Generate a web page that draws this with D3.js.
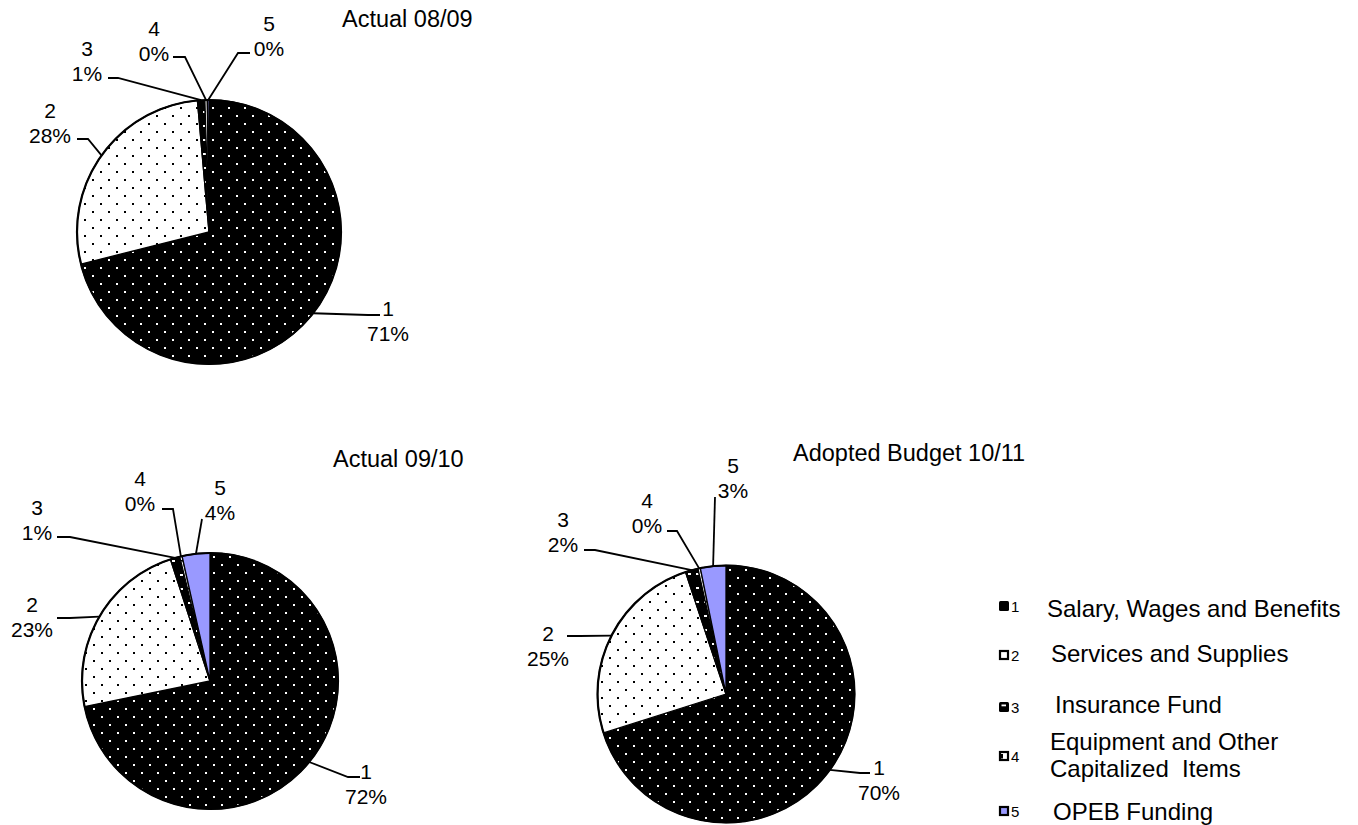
<!DOCTYPE html>
<html><head><meta charset="utf-8">
<script src="https://cdn.jsdelivr.net/npm/d3@7"></script>
<style>
body{margin:0;background:#fff}
svg{display:block}
text{font-family:"Liberation Sans",Arial,Helvetica,sans-serif;fill:#000}
</style>
</head><body>
<svg id="c" width="1358" height="825"></svg>
<script>
// ---- data ----
const categories = ["1", "2", "3", "4", "5"];
const categoryNames = [
  ["Salary, Wages and Benefits"],
  ["Services and Supplies"],
  ["Insurance Fund"],
  ["Equipment and Other", "Capitalized  Items"],
  ["OPEB Funding"]
];
const pieTitles = ["Actual 08/09", "Actual 09/10", "Adopted Budget 10/11"];
const values0809 = [71.1, 27.5, 0.9, 0.3, 0.2];
const values0910 = [71.8, 23.2, 1.2, 0.3, 3.5];
const values1011 = [70.1, 24.8, 1.6, 0.3, 3.2];
const seriesValues = [values0809, values0910, values1011];

// ---- layout (positions only) ----
const pieLayout = [
  {cx: 209, cy: 232, r: 132, title: [342, 27], labels: [
    {elbow: [368, 315], end: [380, 315], tx: 388, ty: 316},
    {elbow: [88, 139], end: [77, 139], tx: 50, ty: 118},
    {elbow: [118, 78], end: [108, 78], tx: 87, ty: 56},
    {elbow: [185, 57], end: [173, 57], tx: 154, ty: 36},
    {elbow: [238, 53], end: [250, 53], tx: 269, ty: 31}
  ]},
  {cx: 210, cy: 681, r: 128, title: [333, 467], labels: [
    {elbow: [348, 777], end: [360, 777], tx: 366, ty: 779},
    {elbow: [70, 618], end: [57, 618], tx: 32, ty: 612},
    {elbow: [70, 537], end: [57, 537], tx: 37, ty: 515},
    {elbow: [173, 509], end: [162, 509], tx: 140, ty: 486},
    {elbow: [202, 519], end: [202, 519], tx: 220, ty: 495}
  ]},
  {cx: 726, cy: 694, r: 128.5, title: [793, 461], labels: [
    {elbow: [860, 773], end: [870, 773], tx: 879, ty: 775},
    {elbow: [580, 636], end: [567, 636], tx: 548, ty: 641},
    {elbow: [595, 550], end: [584, 550], tx: 563, ty: 527},
    {elbow: [677, 531], end: [667, 531], tx: 647, ty: 508},
    {elbow: [715, 497], end: [715, 497], tx: 733, ty: 473}
  ]}
];
const legendLayout = {markerX: 999, numX: 1011, rows: [
  {my: 601, tx: 1047, ty: [617]},
  {my: 650, tx: 1051, ty: [662]},
  {my: 702, tx: 1055, ty: [713]},
  {my: 751, tx: 1050, ty: [750, 777]},
  {my: 806, tx: 1053, ty: [820]}
]};

const svg = d3.select("#c");
const defs = svg.append("defs");

// patterns
function dotPattern(id, bg, fg) {
  const p = defs.append("pattern").attr("id", id).attr("patternUnits", "userSpaceOnUse")
    .attr("width", 16).attr("height", 16);
  p.append("rect").attr("width", 16).attr("height", 16).attr("fill", bg);
  p.append("rect").attr("x", 3).attr("y", 3).attr("width", 2).attr("height", 2).attr("fill", fg);
  p.append("rect").attr("x", 11).attr("y", 11).attr("width", 2).attr("height", 2).attr("fill", fg);
}
dotPattern("p1", "#000", "#fff");
dotPattern("p2", "#fff", "#000");
{
  const p = defs.append("pattern").attr("id", "p3").attr("patternUnits", "userSpaceOnUse")
    .attr("width", 8).attr("height", 14);
  p.append("rect").attr("width", 8).attr("height", 14).attr("fill", "#000");
  p.append("rect").attr("x", 2).attr("y", 5).attr("width", 3).attr("height", 2).attr("fill", "#fff");
}
{
  const p = defs.append("pattern").attr("id", "p4").attr("patternUnits", "userSpaceOnUse")
    .attr("width", 8).attr("height", 14);
  p.append("rect").attr("width", 8).attr("height", 14).attr("fill", "#fff");
  p.append("rect").attr("x", 2).attr("y", 5).attr("width", 3).attr("height", 1.5).attr("fill", "#000");
}
const fills = ["url(#p1)", "url(#p2)", "url(#p3)", "url(#p4)", "#9999ff"];
const color = d3.scaleOrdinal().domain(categories).range(fills);

const pie = d3.pie().sort(null).value(d => d.v);

pieLayout.forEach((L, k) => {
  const data = seriesValues[k].map((v, i) => ({cat: categories[i], v}));
  const arcs = pie(data);
  const g = svg.append("g").attr("transform", `translate(${L.cx},${L.cy})`);
  const arc = d3.arc().innerRadius(0).outerRadius(L.r);
  const edge = d3.arc().innerRadius(L.r).outerRadius(L.r);

  g.selectAll("path.slice").data(arcs).join("path")
    .attr("class", "slice")
    .attr("d", arc)
    .attr("fill", d => color(d.data.cat))
    .attr("stroke", "#000").attr("stroke-width", 1.3).attr("stroke-linejoin", "round");
  g.append("circle").attr("r", L.r).attr("fill", "none").attr("stroke", "#000").attr("stroke-width", 2.2);

  // leader lines + labels
  arcs.forEach((d, i) => {
    const lab = L.labels[i];
    const c = edge.centroid(d);
    const start = [L.cx + c[0], L.cy + c[1]];
    svg.append("polyline")
      .attr("points", [start, lab.elbow, lab.end].map(p => p.join(",")).join(" "))
      .attr("fill", "none").attr("stroke", "#000").attr("stroke-width", 1.8);
    const t = svg.append("text").attr("text-anchor", "middle").attr("font-size", 21);
    t.append("tspan").attr("x", lab.tx).attr("y", lab.ty).text(d.data.cat);
    t.append("tspan").attr("x", lab.tx).attr("y", lab.ty + 25).text(Math.round(d.data.v) + "%");
  });

  svg.append("text").attr("x", L.title[0]).attr("y", L.title[1])
    .attr("font-size", 23.5).text(pieTitles[k]);
});

// legend
const LG = legendLayout;
LG.rows.forEach((row, i) => {
  const g = svg.append("g");
  const x = LG.markerX, y = row.my;
  if (i === 0) {
    g.append("rect").attr("x", x).attr("y", y).attr("width", 10).attr("height", 10).attr("rx", 1.5).attr("fill", "#000");
  } else if (i === 1) {
    g.append("rect").attr("x", x + 1).attr("y", y + 1).attr("width", 8).attr("height", 8).attr("fill", "#fff").attr("stroke", "#000").attr("stroke-width", 2.2);
  } else if (i === 2) {
    g.append("rect").attr("x", x).attr("y", y).attr("width", 10).attr("height", 10).attr("rx", 1.5).attr("fill", "#000");
    g.append("rect").attr("x", x + 2.5).attr("y", y + 2.5).attr("width", 4.5).attr("height", 1.8).attr("fill", "#fff");
  } else if (i === 3) {
    g.append("rect").attr("x", x + 1).attr("y", y + 1).attr("width", 8).attr("height", 8).attr("fill", "#fff").attr("stroke", "#000").attr("stroke-width", 2.2);
    g.append("rect").attr("x", x + 1).attr("y", y + 3).attr("width", 3).attr("height", 4.5).attr("fill", "#000");
  } else {
    g.append("rect").attr("x", x + 1).attr("y", y + 1).attr("width", 8).attr("height", 8).attr("fill", color(categories[4])).attr("stroke", "#000").attr("stroke-width", 2.2);
  }
  g.append("text").attr("x", LG.numX).attr("y", y + 11).attr("font-size", 15).text(categories[i]);
  const t = g.append("text").attr("font-size", 24);
  categoryNames[i].forEach((s, j) => {
    t.append("tspan").attr("x", row.tx).attr("y", row.ty[j]).attr("xml:space", "preserve").text(s);
  });
});
</script>
</body></html>
